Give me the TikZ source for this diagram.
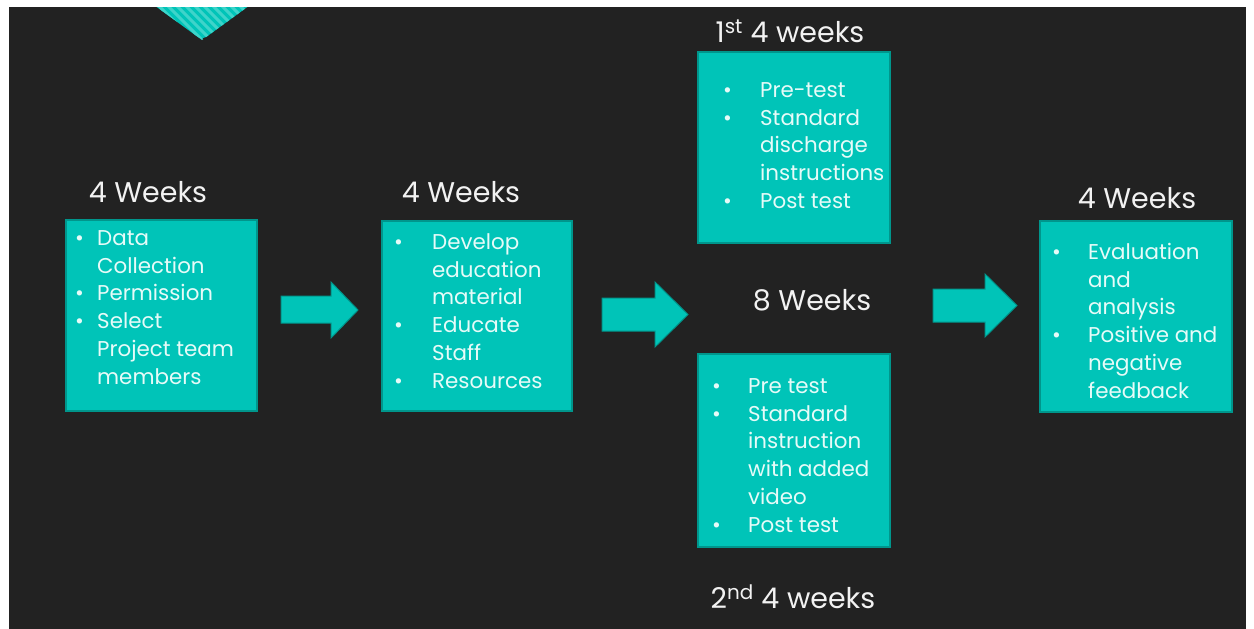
\documentclass[tikz,border=0pt]{standalone}
\usepackage{fontspec}
\setmainfont{Poppins}
\usetikzlibrary{positioning}

\definecolor{slidebg}{HTML}{222222}
\definecolor{boxteal}{HTML}{00C4B8}
\definecolor{boxedge}{HTML}{00968C}
\definecolor{stripe}{HTML}{3ED4CA}
\definecolor{boxtext}{HTML}{E6FBF8}
\definecolor{headtext}{HTML}{F2F2F2}

\tikzset{
  box/.style={draw=boxedge, line width=1.6pt, fill=boxteal, inner sep=0pt},
  list/.style={text=boxtext, inner sep=0pt, font=\fontsize{21.4}{27.8}\selectfont},
  heading/.style={text=headtext, inner sep=0pt, font=\fontsize{28.5}{33}\selectfont},
  blockarrow/.style={draw=boxedge, line width=1pt, fill=boxteal, line join=miter}
}

\begin{document}
\begin{tikzpicture}[x=1pt, y=-1pt]
  \useasboundingbox (0,0) rectangle (1254,629);
  \fill[slidebg] (9,7) rectangle (1246,629);

  % corner ornament
  \begin{scope}
    \clip (9,7) rectangle (1246,629);
    \fill[boxteal, rounded corners=5pt] (147,0) -- (202,40) -- (257,0) -- cycle;
    \clip (147,0) -- (202,40) -- (257,0) -- cycle;
    \foreach \s in {90,99,...,270}
      \draw[stripe, line width=3pt] (\s,0) -- ++(50,50);
  \end{scope}

  % boxes
  \node[box, minimum width=191, minimum height=191] (b1) at (161.5,315.5) {};
  \node[box, minimum width=190, minimum height=190] (b2) at (477,316) {};
  \node[box, minimum width=192, minimum height=191] (b3) at (794,147.5) {};
  \node[box, minimum width=192, minimum height=193] (b4) at (794,450.5) {};
  \node[box, minimum width=192, minimum height=191] (b5) at (1136,316.5) {};

  % lists
  \node[list, anchor=north west] (l1) at (75,225.6) {%
    \begin{tabular}{@{}p{22pt}@{}l@{}}
      \textbullet & Data\\
                  & Collection\\
      \textbullet & Permission\\
      \textbullet & Select\\
                  & Project team\\
                  & members
    \end{tabular}};
  \node[list, anchor=north west] (l2) at (394,229.6) {%
    \begin{tabular}{@{}p{38pt}@{}l@{}}
      \textbullet & Develop\\
                  & education\\
                  & material\\
      \textbullet & Educate\\
                  & Staff\\
      \textbullet & Resources
    \end{tabular}};
  \node[list, anchor=north west] (l3) at (723,77.6) {%
    \begin{tabular}{@{}p{37pt}@{}l@{}}
      \textbullet & Pre-test\\
      \textbullet & Standard\\
                  & discharge\\
                  & instructions\\
      \textbullet & Post test
    \end{tabular}};
  \node[list, anchor=north west] (l4) at (712,373.6) {%
    \begin{tabular}{@{}p{36pt}@{}l@{}}
      \textbullet & Pre test\\
      \textbullet & Standard\\
                  & instruction\\
                  & with added\\
                  & video\\
      \textbullet & Post test
    \end{tabular}};
  \node[list, anchor=north west] (l5) at (1052,239.6) {%
    \begin{tabular}{@{}p{36pt}@{}l@{}}
      \textbullet & Evaluation\\
                  & and\\
                  & analysis\\
      \textbullet & Positive and\\
                  & negative\\
                  & feedback
    \end{tabular}};

  % headings
  \node[heading] (h1) at (148,192) {4 Weeks};
  \node[heading] (h2) at (461,192) {4 Weeks};
  \node[heading] (h3) at (790,31) {1\textsuperscript{st} 4 weeks};
  \node[heading] (h4) at (812,300) {8 Weeks};
  \node[heading] (h5) at (793,597) {2\textsuperscript{nd} 4 weeks};
  \node[heading] (h6) at (1137,198) {4 Weeks};

  % block arrows
  \draw[blockarrow] (281,296) -- (331,296) -- (331,282) -- (358,310)
    -- (331,338) -- (331,323) -- (281,323) -- cycle;
  \draw[blockarrow] (602,298) -- (655,298) -- (655,282) -- (688,314.5)
    -- (655,347) -- (655,331) -- (602,331) -- cycle;
  \draw[blockarrow] (933,289) -- (985,289) -- (985,274) -- (1017,305.5)
    -- (985,337) -- (985,322) -- (933,322) -- cycle;
\end{tikzpicture}
\end{document}
